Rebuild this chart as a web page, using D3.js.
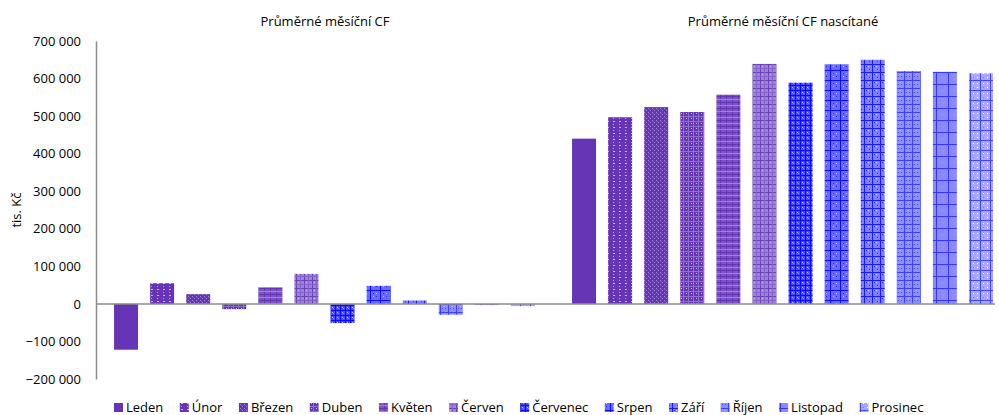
<!DOCTYPE html>
<html><head><meta charset="utf-8">
<script src="https://cdn.jsdelivr.net/npm/d3@7"></script>
<style>
body{margin:0;background:#fff}
text{font-family:"Open Sans",sans-serif;fill:#000}
</style></head>
<body><svg id="c" width="999" height="415"></svg>
<script>
const groups = ["Průměrné měsíční CF", "Průměrné měsíční CF nascítané"];
const months = ["Leden","Únor","Březen","Duben","Květen","Červen","Červenec","Srpen","Září","Říjen","Listopad","Prosinec"];
const monthlyCF = [-122000, 55000, 26000, -14000, 44000, 80000, -51000, 48000, 9000, -29000, -3000, -6000];
const summedCF = [440000, 497000, 524000, 511000, 557000, 639000, 589000, 638000, 650000, 620000, 618000, 614000];
const yTicks = [-200000,-100000,0,100000,200000,300000,400000,500000,600000,700000];
const yLabel = "tis. Kč";

const svg = d3.select("#c");
const defs = svg.append("defs");

const P = "#6535b5", PL = "#9d82d6", PW = "#c9b8ec";
const BL = "#8a8aff", BW = "#c3c3ff";
const pats = [
  {bg:P, items:[]},
  {bg:P, size:6, items:[{t:"dot",x:1,y:1,c:PW},{t:"dot",x:2,y:1,c:PW},{t:"dot",x:1,y:4,c:"#b29fe2"}]},
  {bg:P, size:4, items:[{t:"dot",x:0,y:0,c:PL},{t:"dot",x:2,y:2,c:PL},{t:"dot",x:1,y:1,c:"#7d5cc5"}]},
  {bg:P, size:5, items:[{t:"h",y:1,c:"#8f70cf"},{t:"v",x:3,c:"#8f70cf"},{t:"dot",x:1,y:3,c:PW}]},
  {bg:"#7a55c4", size:6, items:[{t:"h",y:0,c:P},{t:"v",x:0,c:P},{t:"dot",x:3,y:3,c:PW},{t:"h",y:3,c:PL}]},
  {bg:PL, size:8, items:[{t:"h",y:0,c:"#6c42bb"},{t:"v",x:0,c:"#6c42bb"},{t:"h",y:4,c:"#8363c9"},{t:"v",x:4,c:"#8363c9"},{t:"dot",x:2,y:2,c:PW}]},
  {bg:"#4a4aff", size:5, items:[{t:"h",y:0,c:"#0a0aff"},{t:"v",x:0,c:"#0a0aff"},{t:"dot",x:2,y:2,c:BW},{t:"dot",x:3,y:3,c:BL}]},
  {bg:"#6a6aff", size:10, items:[{t:"h",y:0,c:"#0e0eff"},{t:"v",x:0,c:"#0e0eff"},{t:"dot",x:3,y:3,c:"#2a2aff"},{t:"dot",x:6,y:6,c:"#2a2aff"},{t:"dot",x:3,y:6,c:BW},{t:"dot",x:6,y:3,c:BW}]},
  {bg:"#8080ff", size:8, items:[{t:"h",y:0,c:"#1a1aff"},{t:"v",x:0,c:"#1a1aff"},{t:"dot",x:2,y:2,c:"#3030ff"},{t:"dot",x:5,y:5,c:"#3030ff"},{t:"dot",x:4,y:2,c:BW}]},
  {bg:"#8d8dff", size:8, items:[{t:"h",y:0,c:"#4040ff"},{t:"v",x:0,c:"#4040ff"},{t:"dot",x:2,y:4,c:"#5050ff"},{t:"dot",x:5,y:4,c:"#5050ff"},{t:"dot",x:4,y:2,c:BW}]},
  {bg:"#8a8aff", size:12, items:[{t:"h",y:0,c:"#3535ff"},{t:"v",x:0,c:"#3535ff"},{t:"dot",x:6,y:6,c:"#a0a0ff"}]},
  {bg:"#a8a8ff", size:10, items:[{t:"h",y:0,c:"#4545ff"},{t:"v",x:0,c:"#4545ff"},{t:"dot",x:3,y:3,c:"#fff"},{t:"dot",x:7,y:3,c:"#fff"},{t:"dot",x:3,y:7,c:"#7a7aff"},{t:"dot",x:7,y:7,c:"#fff"}]}
];
pats.forEach((p,i)=>{
  const s = p.size||4;
  const pt = defs.append("pattern").attr("id","p"+i).attr("patternUnits","userSpaceOnUse")
    .attr("width",s).attr("height",s);
  pt.append("rect").attr("width",s).attr("height",s).attr("fill",p.bg);
  p.items.forEach(it=>{
    if(it.t==="dot") pt.append("rect").attr("x",it.x).attr("y",it.y).attr("width",1).attr("height",1).attr("fill",it.c);
    if(it.t==="h") pt.append("rect").attr("x",0).attr("y",it.y).attr("width",s).attr("height",1).attr("fill",it.c);
    if(it.t==="v") pt.append("rect").attr("x",it.x).attr("y",0).attr("width",1).attr("height",s).attr("fill",it.c);
  });
});
const fill = i => i===0 ? P : `url(#p${i})`;

const axisX = 96, groupW = 458, plotRight = 995;
const y = d3.scaleLinear().domain([-200000,700000]).range([379,41]);
const x0 = d3.scaleBand().domain(groups).range([axisX, axisX + 2*groupW]);
const x1 = d3.scaleBand().domain(months).range([12, 445]).paddingInner(0.335).paddingOuter(0.1675);

const data = [monthlyCF, summedCF];
const fmt = v => d3.format(",")(v).replace(/,/g," ");

const yAxis = d3.axisLeft(y).tickValues(yTicks).tickSize(0).tickPadding(15).tickFormat(fmt);
const ga = svg.append("g").attr("transform",`translate(${axisX},0)`).call(yAxis);
ga.select(".domain").attr("stroke","#8c8c8c").attr("stroke-width",1.5);
ga.selectAll("text").style("font-size","13px").style("font-family","'Open Sans',sans-serif").attr("fill","#000");

svg.append("text").attr("transform",`translate(21,${(y(300000)+y(200000))/2}) rotate(-90)`)
  .attr("text-anchor","middle").style("font-size","13px").text(yLabel);

groups.forEach((g,gi)=>{
  svg.append("g").selectAll("rect").data(data[gi]).join("rect")
    .attr("x",(d,i)=>x0(g)+x1(months[i]))
    .attr("width",x1.bandwidth())
    .attr("y",d=>y(Math.max(0,d)))
    .attr("height",d=>Math.abs(y(d)-y(0)))
    .attr("fill",(d,i)=>fill(i));
  svg.append("text").attr("x",x0(g)+229).attr("y",26).attr("text-anchor","middle")
    .style("font-size","13px").text(g);
});

svg.append("line").attr("x1",axisX).attr("x2",plotRight).attr("y1",y(0)).attr("y2",y(0))
  .attr("stroke","#8c8c8c").attr("stroke-width",1.5);

const lg = svg.append("g");
let lx = 114;
months.forEach((m,i)=>{
  lg.append("rect").attr("x",lx).attr("y",403).attr("width",9).attr("height",9).attr("fill",fill(i));
  const t = lg.append("text").attr("x",lx+12).attr("y",412).style("font-size","13px").text(m);
  lx += 12 + t.node().getComputedTextLength() + 16.5;
});
</script>
</body></html>
